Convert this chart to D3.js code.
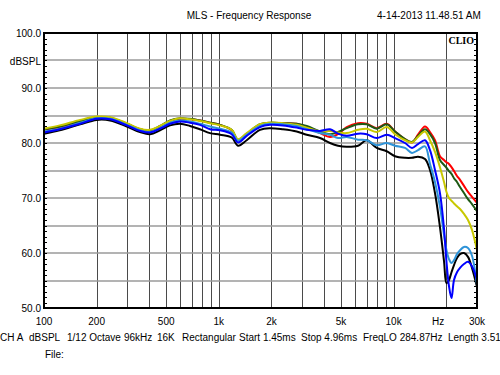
<!DOCTYPE html>
<html>
<head>
<meta charset="utf-8">
<script src="https://cdn.jsdelivr.net/npm/d3@7"></script>
<style>
  html, body { margin: 0; padding: 0; background: #fff; }
  svg { display: block; font-family: 'Liberation Sans', Arial, sans-serif; }
</style>
</head>
<body>
<div id="chart"></div>
<script>
// frequency points (Hz) shared by all traces
const freqs = [100, 123, 161, 200, 239, 298, 354, 404, 461, 526, 600, 684, 780, 891, 1016, 1185, 1288, 1444,
  1721, 1963, 2330, 2790, 3184, 3793, 4327, 4809, 5390, 6256, 7019, 8006, 9131, 10190, 11620, 12740, 13790,
  15120, 16150, 17250, 18420, 19430, 20070, 20740, 21440, 22160, 23050, 23990, 25270, 26640, 28080, 30000];

// dBSPL per trace
const black = [81.7, 82.3, 83.4, 84.2, 84.1, 83.0, 82.0, 81.6, 82.3, 83.2, 83.5, 83.1, 82.5, 81.8, 81.5, 81.0, 79.5, 80.5,
  82.4, 82.7, 82.5, 82.1, 81.5, 80.9, 80.0, 79.5, 79.3, 79.5, 80.5, 79.1, 78.5, 77.6, 77.3, 77.3, 77.5,
  77.1, 75.1, 70.9, 64.7, 58.5, 54.5, 55.1, 56.5, 57.8, 59.1, 59.8, 60.0, 59.3, 57.3, 53.8];
const red = [82.4, 82.9, 83.9, 84.6, 84.5, 83.5, 82.5, 82.2, 83.0, 84.0, 84.4, 84.3, 84.1, 83.7, 83.3, 82.3, 80.5, 81.6,
  83.3, 83.6, 83.6, 83.5, 82.9, 81.8, 81.1, 81.6, 82.9, 83.6, 83.5, 82.7, 83.5, 82.1, 80.7, 80.1, 81.5,
  83.0, 82.0, 80.5, 77.6, 76.9, 76.5, 76.2, 75.6, 74.9, 74.0, 73.3, 72.2, 71.1, 70.2, 69.1];
const green = [82.5, 83.0, 84.0, 84.7, 84.6, 83.5, 82.5, 82.3, 83.1, 84.1, 84.5, 84.4, 84.1, 83.7, 83.3, 82.4, 80.6, 81.7,
  83.4, 83.7, 83.6, 83.5, 83.1, 82.1, 81.6, 82.0, 82.7, 83.4, 83.4, 82.6, 83.4, 82.1, 80.7, 80.2, 81.3,
  82.5, 81.6, 80.0, 76.9, 76.0, 75.5, 74.9, 74.4, 73.6, 72.9, 72.0, 70.9, 69.8, 68.9, 67.6];
const yellow = [82.6, 83.2, 84.2, 84.8, 84.7, 83.6, 82.6, 82.4, 83.1, 84.0, 84.5, 84.3, 84.0, 83.6, 83.2, 82.4, 80.7, 81.8,
  83.4, 83.7, 83.6, 83.3, 82.8, 82.1, 82.2, 81.9, 81.8, 82.4, 82.6, 82.0, 82.9, 81.6, 80.5, 80.1, 81.1,
  82.1, 80.5, 78.4, 75.6, 72.9, 71.1, 70.0, 69.5, 69.0, 68.5, 68.0, 67.1, 66.0, 64.2, 60.5];
const lightBlue = [82.1, 82.6, 83.7, 84.5, 84.4, 83.3, 82.3, 82.0, 82.7, 83.7, 84.1, 83.9, 83.5, 83.0, 82.6, 81.9, 80.4, 81.5,
  83.1, 83.5, 83.4, 83.1, 82.5, 81.8, 81.5, 80.9, 81.1, 80.6, 80.5, 79.6, 80.0, 79.5, 79.1, 78.2, 78.7,
  79.4, 76.2, 72.9, 68.4, 63.3, 60.5, 58.9, 58.2, 58.7, 59.8, 60.5, 61.1, 60.9, 59.5, 54.2];
const blue = [81.9, 82.5, 83.5, 84.4, 84.3, 83.2, 82.2, 81.9, 82.6, 83.5, 83.9, 83.7, 83.3, 82.5, 82.3, 81.6, 80.1, 81.3,
  82.9, 83.3, 83.2, 82.8, 82.4, 82.2, 82.5, 81.7, 81.3, 81.7, 81.6, 80.9, 81.5, 80.9, 80.0, 79.1, 79.8,
  80.5, 78.7, 75.1, 70.9, 64.4, 58.4, 54.0, 51.8, 55.1, 56.5, 57.3, 58.0, 58.4, 57.6, 55.1];

const traces = [
  { name: 'black', values: black, color: '#000000' },
  { name: 'red', values: red, color: '#ff0000' },
  { name: 'green', values: green, color: '#1e5a14' },
  { name: 'yellow', values: yellow, color: '#c8c800' },
  { name: 'lightBlue', values: lightBlue, color: '#2e93d8' },
  { name: 'blue', values: blue, color: '#0000ff' }
];

const yTicks = [100, 90, 80, 70, 60, 50];
const xTicks = [100, 200, 500, 1000, 2000, 5000, 10000, 20000, 30000];
const xTickLabels = ['100', '200', '500', '1k', '2k', '5k', '10k', 'Hz', '30k'];
const footer = ['CH A', 'dBSPL', '1/12 Octave', '96kHz', '16K', 'Rectangular', 'Start 1.45ms', 'Stop 4.96ms',
  'FreqLO 284.87Hz', 'Length 3.51ms'];
const footerX = [0, 29, 67, 124, 157, 182, 239, 301, 363, 448];

const dims = { width: 500, height: 375 };
const plot = { left: 44, right: 477, top: 33, bottom: 308 };
const fontSize = '10px';

const svg = d3.select('#chart')
  .append('svg')
  .attr('width', dims.width)
  .attr('height', dims.height);

const x = d3.scaleLog().domain([100, 30000]).range([plot.left, plot.right]);
const y = d3.scaleLinear().domain([50, 100]).range([plot.bottom, plot.top]);

// header
svg.append('text')
  .attr('x', 249).attr('y', 19)
  .attr('text-anchor', 'middle')
  .style('font-size', fontSize)
  .text('MLS - Frequency Response');

svg.append('text')
  .attr('x', 377).attr('y', 19)
  .style('font-size', fontSize)
  .text('4-14-2013 11.48.51 AM');

// grid
const grid = svg.append('g');

const vLines = [];
[100, 1000, 10000].forEach(dec => {
  for (let m = 1; m <= 9; m++) {
    const f = dec * m;
    if (f > 100 && f < 30000) vLines.push(f);
  }
});

grid.selectAll('line.v')
  .data(vLines)
  .enter().append('line')
  .attr('class', 'v')
  .attr('x1', d => Math.round(x(d)) + 0.5).attr('x2', d => Math.round(x(d)) + 0.5)
  .attr('y1', plot.top).attr('y2', plot.bottom)
  .attr('stroke', '#4a4a4a')
  .attr('stroke-width', 1);

grid.selectAll('line.h')
  .data(d3.range(55, 100, 5))
  .enter().append('line')
  .attr('class', 'h')
  .attr('x1', plot.left).attr('x2', plot.right)
  .attr('y1', d => Math.round(y(d))).attr('y2', d => Math.round(y(d)))
  .attr('stroke', '#9a9a9a')
  .attr('stroke-width', 1.5);

// minor ticks on left and right borders, every 1 dB
const minor = d3.range(51, 100, 1);
grid.selectAll('line.tl')
  .data(minor)
  .enter().append('line')
  .attr('x1', plot.left).attr('x2', plot.left + 3)
  .attr('y1', d => Math.round(y(d)) + 0.5).attr('y2', d => Math.round(y(d)) + 0.5)
  .attr('stroke', '#000');
grid.selectAll('line.tr')
  .data(minor)
  .enter().append('line')
  .attr('x1', plot.right - 3).attr('x2', plot.right)
  .attr('y1', d => Math.round(y(d)) + 0.5).attr('y2', d => Math.round(y(d)) + 0.5)
  .attr('stroke', '#000');

// traces
svg.append('clipPath').attr('id', 'clip')
  .append('rect')
  .attr('x', plot.left).attr('y', plot.top)
  .attr('width', plot.right - plot.left).attr('height', plot.bottom - plot.top);

const line = d3.line()
  .x((d, i) => x(freqs[i]))
  .y(d => y(d))
  .curve(d3.curveCatmullRom.alpha(0.5));

svg.append('g')
  .attr('clip-path', 'url(#clip)')
  .selectAll('path')
  .data(traces)
  .enter().append('path')
  .attr('d', d => line(d.values))
  .attr('fill', 'none')
  .attr('stroke', d => d.color)
  .attr('stroke-width', 2)
  .attr('stroke-linejoin', 'round');

// frame
svg.append('rect')
  .attr('x', plot.left).attr('y', plot.top)
  .attr('width', plot.right - plot.left).attr('height', plot.bottom - plot.top)
  .attr('fill', 'none')
  .attr('stroke', '#000')
  .attr('stroke-width', 2);

svg.append('text')
  .attr('x', 474).attr('y', 44)
  .attr('text-anchor', 'end')
  .style('font-family', "'Liberation Serif', serif")
  .style('font-weight', 'bold')
  .style('font-size', '10px')
  .text('CLIO');

// y labels
svg.append('g').selectAll('text')
  .data(yTicks)
  .enter().append('text')
  .attr('x', 41).attr('y', d => y(d) + 4)
  .attr('text-anchor', 'end')
  .style('font-size', fontSize)
  .text(d => d.toFixed(1));

svg.append('text')
  .attr('x', 41).attr('y', y(95) + 4)
  .attr('text-anchor', 'end')
  .style('font-size', fontSize)
  .text('dBSPL');

// x labels
svg.append('g').selectAll('text')
  .data(xTicks)
  .enter().append('text')
  .attr('x', (d, i) => x(d) + (xTickLabels[i] === 'Hz' ? -8 : 0))
  .attr('y', 325)
  .attr('text-anchor', 'middle')
  .style('font-size', fontSize)
  .text((d, i) => xTickLabels[i]);

// footer
svg.append('g').selectAll('text')
  .data(footer)
  .enter().append('text')
  .attr('x', (d, i) => footerX[i])
  .attr('y', 341)
  .style('font-size', fontSize)
  .text(d => d);

svg.append('text')
  .attr('x', 45).attr('y', 358)
  .style('font-size', fontSize)
  .text('File:');
</script>
</body>
</html>
